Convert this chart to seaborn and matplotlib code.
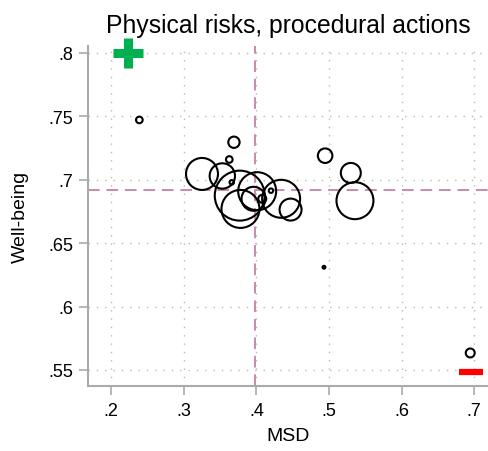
import numpy as np
import pandas as pd
import seaborn as sns
import matplotlib.pyplot as plt

# group points: MSD vs well-being, marker area ~ group weight
msd = [0.325, 0.353, 0.369, 0.3626, 0.366, 0.377, 0.378, 0.401, 0.396, 0.408,
       0.420, 0.434, 0.447, 0.4946, 0.530, 0.5357, 0.2387, 0.493, 0.6945]
wellbeing = [0.7046, 0.703, 0.7296, 0.716, 0.698, 0.6875, 0.677, 0.691, 0.685, 0.685,
             0.6914, 0.685, 0.6765, 0.719, 0.7054, 0.6835, 0.7472, 0.631, 0.5634]
weight = [256, 161, 32, 11, 5, 625, 361, 361, 144, 16,
          5, 361, 121, 53, 100, 342, 11, 2, 20]

# means (dashed reference lines)
mean_msd = 0.3975
mean_wb = 0.6916

# best / worst corner symbols
plus_x, plus_y = [0.2225], [0.800]
minus_x, minus_y = [0.6955], [0.548]

x_ticks = [0.2, 0.3, 0.4, 0.5, 0.6, 0.7]
x_labels = ['.2', '.3', '.4', '.5', '.6', '.7']
y_ticks = [0.55, 0.6, 0.65, 0.7, 0.75, 0.8]
y_labels = ['.55', '.6', '.65', '.7', '.75', '.8']

df = pd.DataFrame({'MSD': msd, 'Well-being': wellbeing, 'w': weight})

sns.set_style('white')
plt.rcParams['font.family'] = ['Liberation Sans', 'DejaVu Sans']
plt.rcParams['text.color'] = 'black'
plt.rcParams['axes.labelcolor'] = 'black'

fig = plt.figure(figsize=(4.89, 4.52), dpi=100)
ax = fig.add_axes([0.18, 0.1445, 0.818, 0.7515])

k = 2.07
sns.scatterplot(data=df, x='MSD', y='Well-being', size='w',
                sizes=(k * min(weight), k * max(weight)),
                size_norm=(min(weight), max(weight)),
                facecolor='none', edgecolor='black', linewidth=1.5,
                legend=False, ax=ax, zorder=3)

ax.axvline(mean_msd, color='#c98aae', lw=1.4, ls=(0, (6, 3.5)), zorder=2)
ax.axhline(mean_wb, color='#c98aae', lw=1.4, ls=(0, (6, 3.5)), zorder=2)

ax.plot(plus_x, plus_y, marker='+', ms=21, mew=6.5, color='#00b050',
        ls='none', clip_on=False, zorder=4)
ax.plot(minus_x, minus_y, marker='_', ms=17.5, mew=4.5, color='#ff0000',
        ls='none', clip_on=False, zorder=4)

ax.set_xlim(0.168, 0.719)
ax.set_ylim(0.5376, 0.8055)
ax.set_xticks(x_ticks)
ax.set_xticklabels(x_labels)
ax.set_yticks(y_ticks)
ax.set_yticklabels(y_labels)

ax.grid(True, color='#b8b8b8', ls=(0, (1, 5)), lw=1.0)
for s in ['top', 'right']:
    ax.spines[s].set_visible(False)
for s in ['left', 'bottom']:
    ax.spines[s].set_color('#aaaaaa')
    ax.spines[s].set_linewidth(1.5)

ax.tick_params(axis='both', which='major', length=6.5, width=1.2, color='#aaaaaa',
               labelsize=13, labelcolor='black', direction='out')
ax.tick_params(axis='y', pad=4)
ax.tick_params(axis='x', pad=5)
ax.xaxis.set_ticks_position('bottom')
ax.yaxis.set_ticks_position('left')

ax.set_xlabel('MSD', fontsize=14, labelpad=6, color='black')
ax.set_ylabel('Well-being', fontsize=14, labelpad=14, color='black')
ax.set_title('Physical risks, procedural actions', fontsize=17.8, pad=10, color='black')

fig.savefig('out.png', dpi=100)
